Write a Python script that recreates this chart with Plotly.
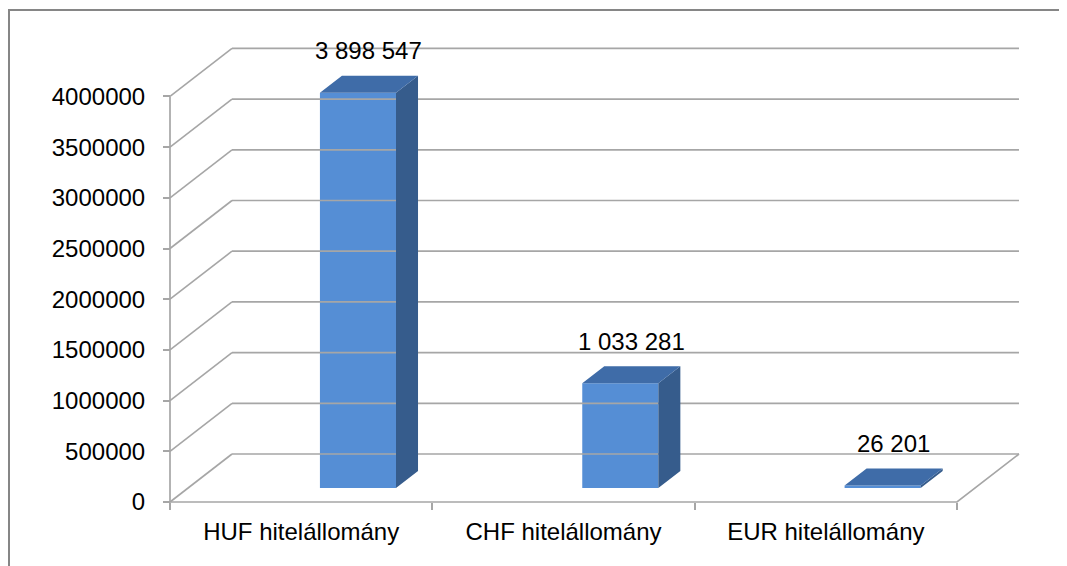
import plotly.graph_objects as go

# ---------------- data ----------------
categories = ["HUF hitelállomány", "CHF hitelállomány", "EUR hitelállomány"]
values = [3898547, 1033281, 26201]
value_labels = ["3 898 547", "1 033 281", "26 201"]
y_ticks = [0, 500000, 1000000, 1500000, 2000000, 2500000, 3000000, 3500000, 4000000]

# ---------------- geometry (pseudo 3D, oblique projection) ----------------
PAGE_OFF = 8                      # browser body margin
FIG_W, FIG_H = 1067 - PAGE_OFF, 566 - PAGE_OFF
M_L, M_R, M_T, M_B = 142, 12, 2, 32
PX_X0 = 170 - PAGE_OFF            # front-left corner of floor (pixel)
PX_CAT = 262.33                   # pixels per category
PX_Y0 = 502 - PAGE_OFF            # pixel of value 0 on front plane
PX_PER_VAL = 101.4e-6


def xu(px):
    return (px - PX_X0) / PX_CAT - 0.5


def yv(px):
    return (PX_Y0 - px) / PX_PER_VAL


DX = 62 / PX_CAT          # full depth, x units
DY = 48 / PX_PER_VAL      # full depth, value units
D_FRONT = 0.29            # depth fraction of bar front face
D_BACK = 0.645            # depth fraction of bar back face
BAR_W = 0.29
BAR_SHIFT = 0.148
n = len(categories)
X_LEFT, X_RIGHT = -0.5, n - 0.5

GRID = "#A6A6A6"
FONT = "Liberation Sans"
FS = 24

fig = go.Figure()

# back wall gridlines
gx, gy = [], []
for v in y_ticks:
    gx += [X_LEFT + DX, X_RIGHT + DX, None]
    gy += [v + DY, v + DY, None]
fig.add_trace(go.Scatter(x=gx, y=gy, mode="lines", line=dict(color=GRID, width=1.7),
                         hoverinfo="skip", showlegend=False))

# left wall diagonals
lx, ly = [], []
for v in y_ticks:
    lx += [X_LEFT, X_LEFT + DX, None]
    ly += [v, v + DY, None]
fig.add_trace(go.Scatter(x=lx, y=ly, mode="lines", line=dict(color=GRID, width=1.6),
                         hoverinfo="skip", showlegend=False))

# floor front edge, right edge, front vertical axis
fig.add_trace(go.Scatter(
    x=[X_LEFT, X_RIGHT, X_RIGHT + DX, None, X_LEFT, X_LEFT],
    y=[0, 0, DY, None, 0, y_ticks[-1]],
    mode="lines", line=dict(color=GRID, width=1.7), hoverinfo="skip", showlegend=False))

# bars: front faces
bar_x = [i + BAR_SHIFT + D_FRONT * DX for i in range(n)]
fig.add_trace(go.Bar(x=bar_x, y=values, base=[D_FRONT * DY] * n, width=BAR_W,
                     marker=dict(color="#558ED5", line=dict(width=0)),
                     hoverinfo="skip", showlegend=False))

ddx = (D_BACK - D_FRONT) * DX
ddy = (D_BACK - D_FRONT) * DY
tx, ty, sx, sy = [], [], [], []
for i, v in enumerate(values):
    xl = bar_x[i] - BAR_W / 2
    xr = bar_x[i] + BAR_W / 2
    yt = v + D_FRONT * DY
    yb = D_FRONT * DY
    tx += [xl, xr, xr + ddx, xl + ddx, xl, None]
    ty += [yt, yt, yt + ddy, yt + ddy, yt, None]
    sx += [xr, xr, xr + ddx, xr + ddx, xr, None]
    sy += [yb, yt, yt + ddy, yb + ddy, yb, None]
fig.add_trace(go.Scatter(x=sx, y=sy, mode="lines", fill="toself", fillcolor="#365C8C",
                         line=dict(width=0, color="#365C8C"), hoverinfo="skip", showlegend=False))
fig.add_trace(go.Scatter(x=tx, y=ty, mode="lines", fill="toself", fillcolor="#3F6CA8",
                         line=dict(width=0, color="#3F6CA8"), hoverinfo="skip", showlegend=False))

# value labels
for i, v in enumerate(values):
    fig.add_annotation(x=bar_x[i] + ddx / 2, y=v + D_FRONT * DY + ddy / 2,
                       text=value_labels[i], showarrow=False, yanchor="bottom", yshift=18,
                       font=dict(family=FONT, size=FS, color="black"))

plot_w = FIG_W - M_L - M_R
plot_h = FIG_H - M_T - M_B
x_range = [xu(M_L), xu(FIG_W - M_R)]
y_range = [yv(FIG_H - M_B), yv(M_T)]
x_pos = (FIG_H - M_B - PX_Y0) / plot_h
y_pos = (PX_X0 - M_L) / plot_w

fig.update_layout(
    width=FIG_W, height=FIG_H,
    margin=dict(l=M_L, r=M_R, t=M_T, b=M_B),
    paper_bgcolor="white", plot_bgcolor="white",
    font=dict(family=FONT, size=FS, color="black"),
    xaxis=dict(range=x_range, anchor="free", position=x_pos, tickvals=list(range(n)),
               ticktext=categories, ticks="", showgrid=False, zeroline=False, showline=False,
               ticklabelstandoff=13),
    xaxis2=dict(range=x_range, overlaying="x", anchor="free", position=x_pos, side="bottom",
                tickvals=[i - 0.5 for i in range(n + 1)], ticks="outside", ticklen=7,
                tickcolor=GRID, tickwidth=1.6, showticklabels=False, showgrid=False,
                zeroline=False, showline=False),
    yaxis=dict(range=y_range, anchor="free", position=y_pos, tickvals=y_ticks,
               tickformat="d", ticks="outside", ticklen=7, tickcolor=GRID, tickwidth=1.6,
               showgrid=False, zeroline=False, showline=False, ticklabelstandoff=13),
    shapes=[dict(type="rect", xref="paper", yref="paper",
                 x0=(1 - M_L) / plot_w, x1=1.3, y0=-0.3, y1=1.0,
                 line=dict(color="#868686", width=2), fillcolor="rgba(0,0,0,0)", layer="above")],
)
# dummy trace to activate xaxis2
fig.add_trace(go.Scatter(x=[None], y=[None], xaxis="x2", showlegend=False, hoverinfo="skip"))

fig.write_html("out.html")
